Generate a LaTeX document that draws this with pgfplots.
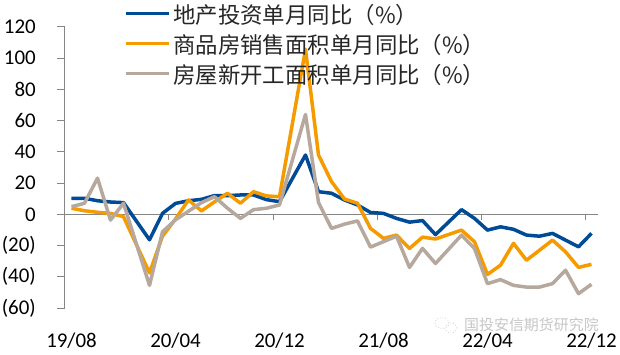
\documentclass[border=0pt]{standalone}
\usepackage{pgfplots}
\pgfplotsset{compat=1.18}
\usepackage{pgfplotstable}
\usepackage{fontspec}
\setmainfont{Carlito}
\newfontfamily\cjk{Noto Sans CJK SC}
\definecolor{cblue}{RGB}{0,75,150}
\definecolor{corange}{RGB}{245,155,0}
\definecolor{cgray}{RGB}{183,168,158}
\definecolor{axgray}{RGB}{134,134,134}

\pgfplotstableread{
i blue orange gray
0 10.3 3.9 4.9
1 10.3 2.3 7.1
2 8.7 1.3 23.2
3 7.9 0.6 -3.7
4 7.5 -1.5 7.1
6 -16.3 -37.5 -45.5
7 0.6 -14 -11.2
8 7.0 -3 -3.5
9 8.7 9.2 2.0
10 9.6 2.2 7.5
11 12.0 8.0 11.3
12 12.0 13.5 3.9
13 12.4 7.1 -2.6
14 12.4 14.5 3.0
15 9.4 11.8 3.9
16 8.1 11.3 6.0
18 38.0 105.7 64.0
19 14.5 38.0 7.6
20 13.5 21.0 -9.0
21 9.2 9.8 -6.3
22 6.0 7.1 -4.2
23 1.2 -9.0 -21.0
24 0.6 -15.4 -17.5
25 -2.6 -13.3 -14.0
26 -5.0 -21.9 -34.0
27 -4.0 -14.6 -21.8
28 -13.0 -15.8 -31.5
30 3.0 -10.1 -13.3
31 -2.6 -17.6 -21.9
32 -10.1 -38.5 -44.4
33 -8.0 -32.6 -41.8
34 -9.6 -18.6 -45.5
35 -13.3 -29.4 -46.6
36 -14.0 -23.0 -46.6
37 -12.2 -16.5 -44.4
38 -16.5 -24.0 -35.8
39 -20.8 -34.0 -50.8
40 -12.2 -32.0 -44.8
}\data

\begin{document}
\begin{tikzpicture}
\path[use as bounding box] (-65bp,-47bp) rectangle (555bp,308bp);
\begin{axis}[
  at={(0,0)}, anchor=south west,
  scale only axis, width=533bp, height=281bp,
  xmin=-0.5, xmax=40.5, ymin=-60, ymax=120,
  axis lines*=left,
  x axis line style={draw=none},
  y axis line style={axgray, line width=1bp},
  xtick={0,8,16,24,32,40},
  xticklabels={19/08,20/04,20/12,21/08,22/04,22/12},
  xtick style={draw=none},
  ytick={-60,-40,...,120},
  yticklabels={(60),(40),(20),0,20,40,60,80,100,120},
  ytick style={axgray, line width=1bp},
  tick align=outside, major tick length=8bp,
  tick label style={font=\fontsize{21}{21}\selectfont, text=black},
  /pgf/number format/assume math mode=true,
  xticklabel style={anchor=center, yshift=-25bp},
  yticklabel style={anchor=east, inner sep=0pt, xshift=-21bp},
  clip=false,
  legend style={at={(0.11,1.08)}, anchor=north west, draw=none, fill=none,
    font=\cjk\fontsize{22.5}{22.5}\selectfont, text=black!85, inner sep=0pt, row sep=5bp, column sep=3bp,
    nodes={inner sep=0pt, text height=19bp, text depth=6bp, anchor=west}},
  legend cell align=left,
  legend image code/.code={\draw[#1, line width=3.5bp] (0bp,0.38em) -- (43bp,0.38em);},
  every axis plot/.append style={line width=3.5bp, line join=round, mark=none},
]
\draw[axgray, line width=1bp] (axis cs:-0.5,0) -- (axis cs:40.5,0);
\pgfplotsinvokeforeach{7.5,15.5,23.5,31.5,39.5}{
  \draw[axgray, line width=1bp] (axis cs:#1,0) -- ([yshift=-6bp]axis cs:#1,0);
}
\addplot[cblue] table[x=i, y=blue] {\data};
\addlegendentry{地产投资单月同比（\%）}
\addplot[corange] table[x=i, y=orange] {\data};
\addlegendentry{商品房销售面积单月同比（\%）}
\addplot[cgray] table[x=i, y=gray] {\data};
\addlegendentry{房屋新开工面积单月同比（\%）}
\end{axis}
\draw[gray!35, line width=0.8bp, dotted] (377bp,-15bp) ellipse (7bp and 5.5bp);
\draw[gray!35, line width=0.8bp, dotted] (386bp,-20bp) ellipse (6bp and 5bp);
\node[anchor=west, inner sep=0pt, text=gray!45, font=\cjk\fontsize{15}{15}\selectfont] at (399bp,-17bp) {国投安信期货研究院};
\end{tikzpicture}
\end{document}
